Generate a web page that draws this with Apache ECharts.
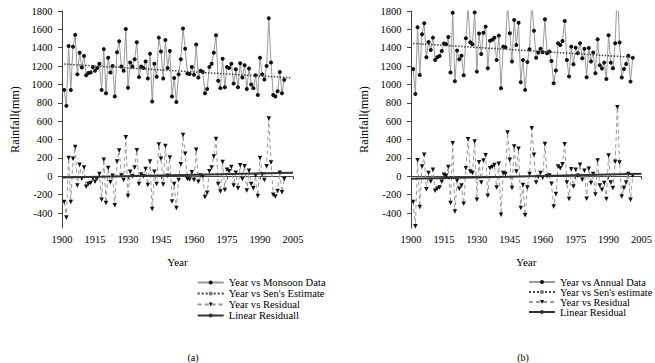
<!DOCTYPE html>
<html><head><meta charset="utf-8">
<script src="https://cdn.jsdelivr.net/npm/echarts@6/dist/echarts.min.js"></script>
<style>html,body{margin:0;padding:0;background:#fff}#c{width:655px;height:363px}</style>
</head><body><div id="c"></div>
<script>
const years = [1901,1902,1903,1904,1905,1906,1907,1908,1909,1910,
1911,1912,1913,1914,1915,1916,1917,1918,1919,1920,
1921,1922,1923,1924,1925,1926,1927,1928,1929,1930,
1931,1932,1933,1934,1935,1936,1937,1938,1939,1940,
1941,1942,1943,1944,1945,1946,1947,1948,1949,1950,
1951,1952,1953,1954,1955,1956,1957,1958,1959,1960,
1961,1962,1963,1964,1965,1966,1967,1968,1969,1970,
1971,1972,1973,1974,1975,1976,1977,1978,1979,1980,
1981,1982,1983,1984,1985,1986,1987,1988,1989,1990,
1991,1992,1993,1994,1995,1996,1997,1998,1999,2000,
2001];
const monsoonData = [941,767,1420,940,1410,1540,1110,1345,1185,1310,
1100,1125,1130,1190,1150,1180,1225,940,1385,905,
1290,1130,1200,870,1350,1470,1195,1150,1605,965,
1240,1195,1275,1460,1080,1195,1180,1250,1065,1335,
815,1225,1085,1510,1360,1065,1485,1180,1365,870,
1070,810,1110,1275,1610,1390,1120,1115,1190,1105,
1435,1075,1150,1135,905,950,1190,1225,1345,1535,
1040,960,1280,970,1190,1180,1225,1010,1165,970,
1230,1075,1210,950,1175,1000,960,1100,885,1290,
1110,1055,1200,1720,1240,885,870,925,1135,905,
1050];
const residualA = [-280,-448,198,-280,190,320,-100,125,-27,95,
-115,-85,-72,-20,-60,-25,25,-255,180,-290,
90,-65,5,-315,160,280,10,-40,425,-215,
50,0,95,285,-85,20,0,80,-95,160,
-355,50,-85,345,190,-90,330,5,205,-275,
-85,-345,-40,130,450,245,-30,-35,45,-40,
290,-60,10,0,-225,-180,55,95,215,405,
-85,-165,155,-150,70,55,100,-100,40,-130,
120,-30,110,-155,60,-85,-130,10,-215,200,
20,-40,110,630,150,-200,-220,-160,40,-175,
-30];
const senYearsA = [1901, 2004];
const senValuesA = [1222, 1072];
const linResYearsA = [1900, 2005];
const linResValuesA = [-12, 38];

const annualData = [1169,897,1622,1104,1546,1666,1296,1463,1376,1510,
1267,1296,1310,1365,1445,1437,1517,1130,1782,1035,
1369,1274,1314,1100,1503,1835,1460,1437,1785,1140,
1554,1332,1564,1630,1176,1477,1488,1510,1267,1532,
959,1412,1405,1880,1557,1249,1702,1430,1673,1024,
1267,941,1245,1383,1910,1586,1292,1347,1390,1350,
1709,1340,1358,1256,1013,1151,1448,1430,1474,1691,
1267,1086,1412,1220,1401,1340,1448,1285,1390,1079,
1398,1249,1347,1122,1492,1209,1173,1238,1060,1535,
1238,1176,1448,2050,1456,1075,1169,1224,1314,1031,
1292];
const residualB = [-280,-545,176,-335,107,234,-140,35,-56,71,
-157,-136,-121,-60,16,5,100,-292,360,-382,
-49,-136,-100,-299,89,404,53,35,379,-255,
154,-67,172,230,-212,89,100,122,-121,136,
-418,35,24,477,180,-128,325,53,300,-346,
-96,-425,-121,24,524,234,-67,-9,35,-16,
353,0,9,-82,-328,-194,107,89,132,350,
-67,-248,78,-110,71,5,125,-38,60,-244,
82,-74,24,-197,172,-100,-147,-74,-248,227,
-67,-128,158,752,151,-219,-128,-67,24,-255,
9];
const senYearsB = [1901, 2001];
const senValuesB = [1447, 1296];
const linResYearsB = [1900, 2005];
const linResValuesB = [-27, 27];

const xTicks = [1900,1915,1930,1945,1960,1975,1990,2005];
const yTicks = [-400,-200,0,200,400,600,800,1000,1200,1400,1600,1800];

const namesA = ['Year vs Monsoon Data', "Year vs Sen's Estimate", 'Year vs Residual', 'Linear Residuall'];
const namesB = ['Year vs Annual Data', "Year vs Sen's estimate", 'Year vs Residual ', 'Linear Residual'];

const SERIF = '"Liberation Serif", "Times New Roman", serif';
const AX = '#444';

function pairs(xs, ys){ return xs.map((x,i)=>[x, ys[i]]); }
const plain = v => String(v);

function xAx(gi){
  return {type:'value', gridIndex:gi, min:1900, max:2005,
    name:'Year', nameLocation:'middle', nameGap:28,
    nameTextStyle:{fontFamily:SERIF, fontSize:11.2, color:'#000'},
    axisLine:{lineStyle:{color:AX, width:1}},
    axisTick:{length:3, customValues:xTicks, lineStyle:{color:AX}},
    axisLabel:{customValues:xTicks, formatter:plain, margin:6, fontFamily:SERIF, fontSize:10.5, color:'#000'},
    splitLine:{show:false}};
}
function yAx(gi){
  return {type:'value', gridIndex:gi, min:-563, max:1800,
    name:'Rainfall(mm)', nameLocation:'middle', nameGap:41,
    nameTextStyle:{fontFamily:SERIF, fontSize:12.3, color:'#000'},
    axisLine:{show:true, lineStyle:{color:AX, width:1}},
    axisTick:{show:true, length:4, customValues:yTicks, lineStyle:{color:AX}},
    axisLabel:{customValues:yTicks, formatter:plain, margin:9.5, fontFamily:SERIF, fontSize:10.5, color:'#000'},
    splitLine:{show:false}};
}
function panelSeries(gi, names, data, resid, senX, senY, lrX, lrY){
  return [
    {name:names[0], type:'line', xAxisIndex:gi, yAxisIndex:gi, data:pairs(years,data),
     symbol:'circle', symbolSize:4, itemStyle:{color:'#111'},
     lineStyle:{color:'#9a9a9a', width:1}, z:2},
    {name:names[1], type:'line', xAxisIndex:gi, yAxisIndex:gi, data:pairs(senX,senY),
     symbol:'circle', symbolSize:2, showSymbol:false, itemStyle:{color:'#777'},
     lineStyle:{color:'#444', width:1.5, type:'dotted'}, z:4},
    {name:names[2], type:'line', xAxisIndex:gi, yAxisIndex:gi, data:pairs(years,resid),
     symbol:'triangle', symbolRotate:180, symbolSize:4.5, itemStyle:{color:'#111'},
     lineStyle:{color:'#9a9a9a', width:1, type:[4,3]}, z:2},
    {name:names[3], type:'line', xAxisIndex:gi, yAxisIndex:gi, data:pairs(lrX,lrY),
     symbol:'none', itemStyle:{color:'#333'}, lineStyle:{color:'#333', width:2}, z:4}
  ];
}
function legend(left, names, fs){
  return {orient:'vertical', left:left, top:277, padding:0, itemGap:0,
    itemWidth:26, itemHeight:5, selectedMode:false,
    textStyle:{fontFamily:SERIF, fontSize:fs, lineHeight:10, color:'#000'},
    data:names};
}

const chart = echarts.init(document.getElementById('c'), null, {renderer:'svg'});
chart.setOption({
  animation:false,
  backgroundColor:'#fff',
  grid:[{left:62, top:11, width:231, height:217},
        {left:411, top:11, width:231, height:217}],
  xAxis:[xAx(0), xAx(1)],
  yAxis:[yAx(0), yAx(1)],
  legend:[legend(196.7, namesA, 10.6), legend(528, namesB, 10.4)],
  series:[].concat(
    panelSeries(0, namesA, monsoonData, residualA, senYearsA, senValuesA, linResYearsA, linResValuesA),
    panelSeries(1, namesB, annualData, residualB, senYearsB, senValuesB, linResYearsB, linResValuesB)),
  graphic:[
    {type:'text', x:193, y:357, style:{text:'(a)', textAlign:'center', textVerticalAlign:'middle', font:'10px '+SERIF, fill:'#000'}},
    {type:'text', x:523, y:357, style:{text:'(b)', textAlign:'center', textVerticalAlign:'middle', font:'10px '+SERIF, fill:'#000'}}
  ]
});
</script></body></html>
